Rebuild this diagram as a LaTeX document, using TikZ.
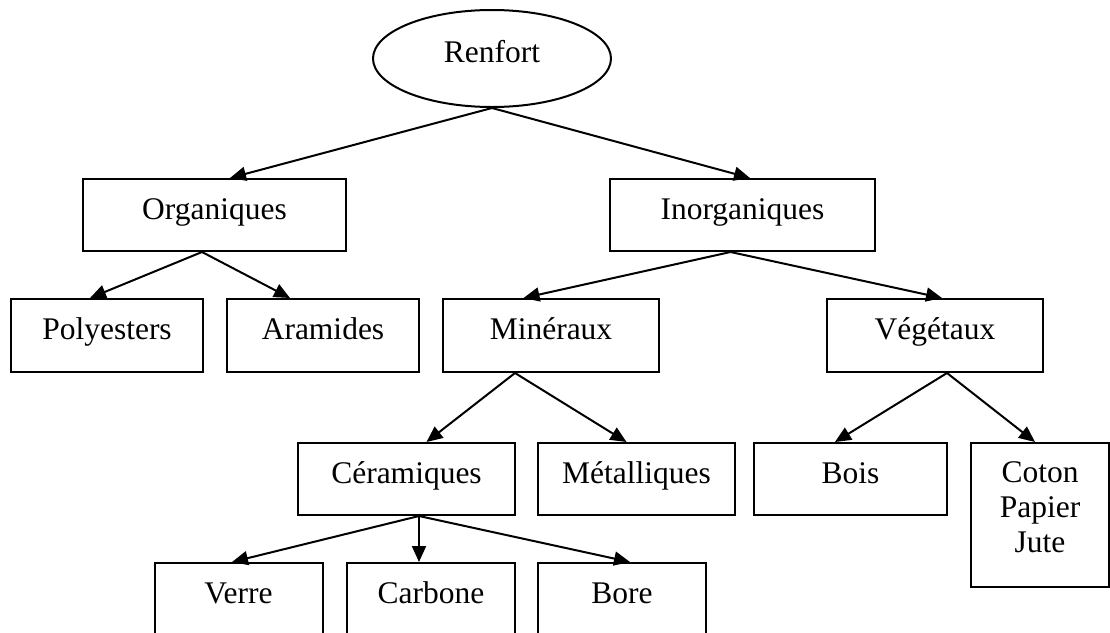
\documentclass[tikz,border=0pt]{standalone}
\usepackage{fontspec}
\setmainfont{Liberation Serif}
\usepackage{tikz}
\usetikzlibrary{arrows.meta,shapes.geometric}

\begin{document}
\begin{tikzpicture}[x=1pt, y=-1pt, line width=2pt,
		font=\fontsize{31.5}{35}\selectfont,
		boite/.style={draw, rectangle, inner sep=0pt, minimum height=72pt,
			text height=22pt, text depth=14pt},
		fleche/.style={-{Triangle[length=16pt,width=14pt]}}]
		%%%%% START %%%%%
		
		\useasboundingbox (0, 0) rectangle (1110, 632);
		\clip (0, 0) rectangle (1110, 632);
		
		\node[draw, ellipse, inner sep=0pt, minimum width=238pt, minimum height=97pt,
			text height=22pt, text depth=14pt] (ren) at (492, 58.5) {Renfort};
		
		\node[boite, minimum width=263pt] (orga) at (214.5, 215) {Organiques};
		\node[boite, minimum width=265pt] (inorg) at (742.5, 215) {Inorganiques};
		
		\node[boite, minimum width=192pt, minimum height=73pt] (poly) at (107, 335.5) {Polyesters};
		\node[boite, minimum width=192pt, minimum height=73pt] (aram) at (323, 335.5) {Aramides};
		\node[boite, minimum width=216pt, minimum height=73pt] (mine) at (551, 335.5) {Minéraux};
		\node[boite, minimum width=216pt, minimum height=73pt] (vege) at (935, 335.5) {Végétaux};
		
		\node[boite, minimum width=217pt] (cera) at (406.5, 479) {Céramiques};
		\node[boite, minimum width=197pt] (meta) at (636.5, 479) {Métalliques};
		\node[boite, minimum width=193pt] (bois) at (850.5, 479) {Bois};
		\node[draw, align=center, inner sep=0pt, minimum width=138pt, minimum height=144pt] (coton) at (1040, 515)
			{Coton\\Papier\\Jute\rule[-16pt]{0pt}{16pt}};
		
		\node[boite, minimum width=168pt] (verre) at (238.5, 599) {Verre};
		\node[boite, minimum width=168pt] (carb) at (431, 599) {Carbone};
		\node[boite, minimum width=168pt] (bore) at (622, 599) {Bore};
		
		% branches
		\draw[fleche] (ren.south) -- ([xshift=15.5pt]orga.north);
		\draw[fleche] (ren.south) -- ([xshift=7.5pt]inorg.north);
		
		\draw[fleche] ([xshift=-12.5pt]orga.south) -- ([xshift=-17pt]poly.north);
		\draw[fleche] ([xshift=-12.5pt]orga.south) -- ([xshift=-33pt]aram.north);
		\draw[fleche] ([xshift=-12pt]inorg.south) -- ([xshift=-27.5pt]mine.north);
		\draw[fleche] ([xshift=-12pt]inorg.south) -- ([xshift=7pt]vege.north);
		
		\draw[fleche] ([xshift=-36pt]mine.south) -- ([xshift=20pt]cera.north);
		\draw[fleche] ([xshift=-36pt]mine.south) -- ([xshift=-10pt]meta.north);
		\draw[fleche] ([xshift=12pt]vege.south) -- ([xshift=-15.5pt]bois.north);
		\draw[fleche] ([xshift=12pt]vege.south) -- ([xshift=-5pt]coton.north);
		
		\draw[fleche] ([xshift=12.5pt]cera.south) -- ([xshift=-6.5pt]verre.north);
		\draw[fleche] ([xshift=12.5pt]cera.south) -- ([xshift=-12pt]carb.north);
		\draw[fleche] ([xshift=12.5pt]cera.south) -- ([xshift=8pt]bore.north);
		
		%%%%% END %%%%%
	\end{tikzpicture}
\end{document}
